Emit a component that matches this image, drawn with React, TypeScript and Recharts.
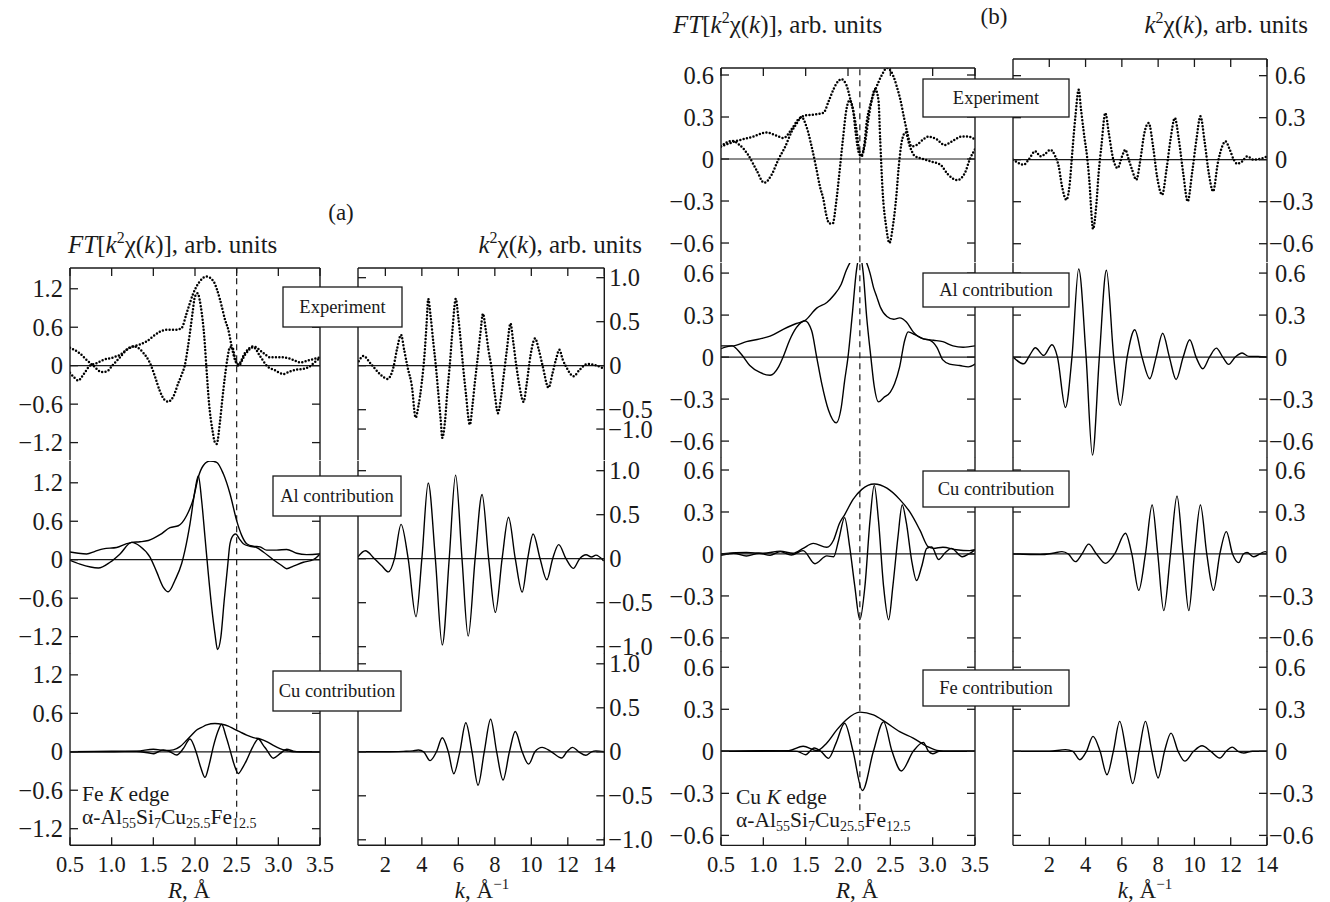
import React from "react";
import { LineChart, Line, XAxis, YAxis, ReferenceLine } from "recharts";

type Pt = [number, number];

// ---------- (a) Fe K edge: FT[k^2 chi(k)] vs R, A ----------
const aExpMag: Pt[] = [[0.5,-0.11],[0.54,-0.17],[0.6,-0.23],[0.66,-0.14],[0.74,0],[0.82,0.04],[0.9,0.09],[1.02,0.13],[1.1,0.17],[1.18,0.25],[1.26,0.3],[1.34,0.33],[1.42,0.38],[1.5,0.46],[1.58,0.53],[1.66,0.56],[1.78,0.56],[1.84,0.59],[1.9,0.82],[1.98,1.13],[2.06,1.32],[2.14,1.39],[2.22,1.32],[2.3,1.03],[2.36,0.72],[2.4,0.56],[2.44,0.3],[2.48,0.09],[2.52,0.02],[2.6,0.2],[2.7,0.3],[2.82,0.2],[2.9,0.13],[3.06,0.13],[3.18,0.09],[3.26,0.05],[3.38,0.09],[3.5,0.13]];
const aExpIm: Pt[] = [[0.5,0.28],[0.62,0.19],[0.7,0.09],[0.78,0],[0.88,-0.1],[0.94,-0.09],[1.02,0.02],[1.1,0.13],[1.18,0.25],[1.26,0.3],[1.3,0.29],[1.38,0.2],[1.46,0.04],[1.52,-0.17],[1.58,-0.4],[1.64,-0.54],[1.68,-0.56],[1.74,-0.48],[1.8,-0.27],[1.84,-0.14],[1.88,0.02],[1.91,0.25],[1.94,0.52],[1.97,0.82],[2.0,1.08],[2.03,1.13],[2.07,0.92],[2.11,0.47],[2.14,-0.09],[2.17,-0.61],[2.21,-1.01],[2.24,-1.2],[2.26,-1.22],[2.3,-0.87],[2.33,-0.5],[2.36,-0.16],[2.39,0.12],[2.42,0.29],[2.45,0.28],[2.48,0.12],[2.52,0],[2.6,0.17],[2.7,0.29],[2.78,0.15],[2.86,0],[2.96,-0.07],[3.06,-0.13],[3.14,-0.09],[3.22,-0.06],[3.3,-0.05],[3.38,-0.01],[3.45,0.07],[3.5,0.12]];
const aAlMag: Pt[] = [[0.5,0.12],[0.6,0.1],[0.7,0.09],[0.8,0.13],[0.9,0.17],[1.06,0.19],[1.18,0.25],[1.24,0.27],[1.34,0.28],[1.44,0.3],[1.58,0.39],[1.7,0.5],[1.8,0.53],[1.9,0.69],[1.98,0.95],[2.04,1.29],[2.1,1.47],[2.18,1.54],[2.26,1.52],[2.34,1.34],[2.42,1.03],[2.5,0.61],[2.56,0.38],[2.62,0.25],[2.7,0.21],[2.78,0.2],[2.86,0.15],[2.98,0.15],[3.1,0.16],[3.22,0.1],[3.34,0.08],[3.48,0.09],[3.5,0.1]];
const aAlIm: Pt[] = [[0.5,-0.01],[0.62,-0.07],[0.84,-0.13],[0.98,-0.04],[1.1,0.09],[1.24,0.27],[1.34,0.21],[1.46,0.04],[1.54,-0.19],[1.62,-0.43],[1.68,-0.5],[1.76,-0.32],[1.84,-0.06],[1.88,0.15],[1.94,0.56],[2.0,1.08],[2.04,1.31],[2.08,0.92],[2.12,0.35],[2.16,-0.22],[2.2,-0.74],[2.24,-1.16],[2.27,-1.4],[2.31,-1.21],[2.35,-0.64],[2.39,-0.12],[2.42,0.25],[2.46,0.38],[2.49,0.4],[2.53,0.33],[2.58,0.25],[2.66,0.21],[2.74,0.19],[2.82,0.12],[2.94,0],[3.04,-0.09],[3.1,-0.14],[3.18,-0.1],[3.3,-0.04],[3.42,0],[3.5,0.09]];
const aCuMag: Pt[] = [[0.5,0],[1.0,0.01],[1.3,0.01],[1.5,0.04],[1.65,0.02],[1.74,0.03],[1.82,0.08],[1.9,0.18],[1.96,0.26],[2.02,0.34],[2.08,0.38],[2.14,0.42],[2.24,0.44],[2.32,0.43],[2.4,0.4],[2.46,0.36],[2.54,0.31],[2.62,0.26],[2.7,0.22],[2.78,0.2],[2.86,0.16],[2.94,0.1],[3.02,0.05],[3.1,0.02],[3.18,0],[3.5,0]];
const aCuIm: Pt[] = [[0.5,0],[1.0,0],[1.3,0.005],[1.45,-0.02],[1.5,-0.03],[1.56,0],[1.62,0.03],[1.7,0],[1.78,-0.05],[1.86,0.05],[1.94,0.2],[2.02,-0.03],[2.07,-0.25],[2.12,-0.4],[2.17,-0.2],[2.22,0.08],[2.27,0.3],[2.32,0.43],[2.37,0.25],[2.42,0.03],[2.47,-0.2],[2.52,-0.34],[2.57,-0.25],[2.62,-0.13],[2.69,0.07],[2.76,0.2],[2.82,0.1],[2.86,0.03],[2.94,-0.1],[3.02,-0.03],[3.1,0.04],[3.18,0.01],[3.26,0],[3.5,0]];

// ---------- (a) k^2 chi(k) vs k, 1/A ----------
const aKExp: Pt[] = [[0.54,0.05],[0.81,0.11],[1.17,0.03],[1.72,-0.1],[2.12,-0.15],[2.45,-0.01],[2.63,0.18],[2.86,0.35],[3.03,0.18],[3.21,-0.01],[3.45,-0.23],[3.66,-0.59],[3.81,-0.46],[3.99,-0.2],[4.14,0.11],[4.26,0.48],[4.35,0.76],[4.48,0.56],[4.63,0.26],[4.77,-0.01],[4.9,-0.31],[5.03,-0.61],[5.12,-0.82],[5.26,-0.65],[5.39,-0.31],[5.54,0.03],[5.68,0.41],[5.86,0.76],[5.99,0.56],[6.14,0.26],[6.26,-0.01],[6.41,-0.31],[6.63,-0.67],[6.77,-0.46],[6.9,-0.2],[7.05,0.07],[7.21,0.37],[7.35,0.59],[7.5,0.41],[7.65,0.18],[7.81,-0.01],[7.99,-0.31],[8.17,-0.54],[8.32,-0.39],[8.48,-0.12],[8.66,0.18],[8.86,0.48],[8.99,0.3],[9.17,0.01],[9.35,-0.23],[9.57,-0.41],[9.75,-0.2],[9.95,0.11],[10.21,0.31],[10.41,0.18],[10.63,-0.01],[10.94,-0.25],[11.17,-0.08],[11.35,0.07],[11.54,0.18],[11.72,0.07],[11.9,-0.01],[12.32,-0.12],[12.63,-0.05],[13.08,0.02],[13.45,0.01],[13.94,-0.03]];
const aKAl: Pt[] = [[0.5,0.02],[0.9,0.09],[1.4,0],[1.8,-0.08],[2.17,-0.15],[2.5,0],[2.86,0.39],[3.25,0],[3.68,-0.66],[4.0,0],[4.35,0.86],[4.74,0],[5.12,-0.98],[5.5,0],[5.85,0.95],[6.2,0],[6.54,-0.88],[6.92,0],[7.3,0.73],[7.66,0],[8.03,-0.61],[8.4,0],[8.75,0.47],[9.12,0],[9.5,-0.38],[9.8,0],[10.1,0.28],[10.48,0],[10.85,-0.24],[11.17,0],[11.5,0.16],[11.9,0],[12.3,-0.11],[12.65,0],[13.0,0.045],[13.3,0.02],[13.54,0.04],[13.94,-0.02]];
const aKCu: Pt[] = [[0.5,0],[2.0,0],[3.0,0.005],[3.5,0.01],[3.81,0.02],[4.1,0],[4.45,-0.1],[4.8,0],[5.12,0.16],[5.45,0],[5.75,-0.25],[6.08,0],[6.41,0.33],[6.75,0],[7.08,-0.38],[7.42,0],[7.77,0.37],[8.1,0],[8.45,-0.32],[8.8,0],[9.12,0.23],[9.5,0],[9.85,-0.14],[10.2,0],[10.59,0.05],[11.1,0],[11.66,-0.07],[11.95,0],[12.26,0.05],[12.6,0],[12.99,-0.04],[13.3,0],[13.54,0.01],[14,0]];

// ---------- (b) Cu K edge: FT vs R ----------
const bExpMag: Pt[] = [[0.5,0.09],[0.69,0.13],[0.88,0.16],[1.04,0.19],[1.14,0.17],[1.24,0.15],[1.33,0.21],[1.41,0.28],[1.49,0.31],[1.63,0.32],[1.71,0.33],[1.77,0.41],[1.83,0.5],[1.89,0.56],[1.92,0.57],[1.98,0.53],[2.03,0.42],[2.07,0.32],[2.1,0.21],[2.13,0.07],[2.15,0.02],[2.19,0.09],[2.22,0.26],[2.27,0.4],[2.34,0.52],[2.4,0.6],[2.46,0.65],[2.53,0.6],[2.58,0.51],[2.62,0.42],[2.66,0.3],[2.7,0.19],[2.75,0.09],[2.81,0.1],[2.89,0.14],[2.95,0.16],[3.05,0.14],[3.14,0.1],[3.24,0.13],[3.34,0.16],[3.42,0.16],[3.5,0.14]];
const bExpIm: Pt[] = [[0.5,0.09],[0.63,0.13],[0.72,0.1],[0.82,0.03],[0.92,-0.08],[1.01,-0.17],[1.1,-0.11],[1.18,0],[1.26,0.09],[1.33,0.19],[1.4,0.26],[1.45,0.3],[1.51,0.23],[1.57,0.09],[1.62,-0.05],[1.67,-0.2],[1.71,-0.29],[1.74,-0.39],[1.78,-0.46],[1.82,-0.46],[1.86,-0.31],[1.9,-0.09],[1.94,0.14],[1.98,0.35],[2.02,0.42],[2.06,0.35],[2.09,0.19],[2.13,0.04],[2.16,0.02],[2.2,0.11],[2.24,0.28],[2.28,0.42],[2.32,0.5],[2.36,0.42],[2.38,0.14],[2.41,-0.24],[2.45,-0.48],[2.49,-0.6],[2.53,-0.48],[2.57,-0.27],[2.6,-0.05],[2.64,0.14],[2.68,0.19],[2.73,0.09],[2.79,0.02],[2.89,0],[2.99,-0.02],[3.09,-0.04],[3.18,-0.11],[3.29,-0.15],[3.38,-0.1],[3.44,0],[3.5,0.07]];
const bAlMag: Pt[] = [[0.5,0.08],[0.63,0.08],[0.8,0.11],[0.96,0.13],[1.08,0.15],[1.24,0.2],[1.39,0.24],[1.49,0.26],[1.63,0.35],[1.75,0.39],[1.83,0.44],[1.92,0.52],[1.98,0.62],[2.05,0.7],[2.13,0.74],[2.2,0.7],[2.26,0.6],[2.3,0.5],[2.34,0.43],[2.38,0.36],[2.46,0.29],[2.54,0.27],[2.61,0.28],[2.69,0.25],[2.77,0.18],[2.89,0.13],[3.01,0.12],[3.12,0.11],[3.24,0.08],[3.36,0.07],[3.5,0.08]];
const bAlIm: Pt[] = [[0.5,0.06],[0.63,0.08],[0.74,0.02],[0.84,-0.06],[0.96,-0.11],[1.08,-0.13],[1.18,-0.07],[1.24,0.01],[1.31,0.12],[1.39,0.21],[1.49,0.26],[1.57,0.19],[1.63,0],[1.69,-0.19],[1.77,-0.38],[1.86,-0.47],[1.92,-0.36],[1.96,-0.17],[2.0,0],[2.05,0.3],[2.1,0.62],[2.14,0.73],[2.18,0.6],[2.22,0.29],[2.27,0],[2.31,-0.21],[2.36,-0.32],[2.42,-0.29],[2.5,-0.25],[2.55,-0.19],[2.61,-0.07],[2.67,0.12],[2.71,0.18],[2.79,0.16],[2.89,0.13],[2.97,0.12],[3.05,0.07],[3.12,-0.02],[3.2,-0.05],[3.32,-0.06],[3.42,-0.07],[3.5,-0.05]];
const bCuMag: Pt[] = [[0.5,0],[0.8,0.01],[1.0,0.005],[1.2,0.02],[1.35,0.005],[1.47,0.04],[1.59,0.076],[1.75,0.048],[1.83,0.1],[1.9,0.22],[1.96,0.28],[2.06,0.39],[2.16,0.46],[2.31,0.5],[2.46,0.47],[2.61,0.39],[2.73,0.3],[2.85,0.17],[2.95,0.05],[3.01,0.04],[3.12,0.048],[3.28,0.03],[3.44,0.024],[3.5,0.03]];
const bCuIm: Pt[] = [[0.5,-0.01],[0.65,0.005],[0.8,-0.015],[0.95,0.005],[1.08,-0.01],[1.2,0.017],[1.33,-0.007],[1.47,0.024],[1.61,-0.07],[1.75,-0.014],[1.83,-0.02],[1.89,0.1],[1.96,0.26],[2.02,0.05],[2.08,-0.23],[2.14,-0.47],[2.2,-0.23],[2.26,0.24],[2.31,0.49],[2.36,0.24],[2.42,-0.23],[2.48,-0.47],[2.53,-0.23],[2.59,0.12],[2.64,0.35],[2.69,0.22],[2.75,-0.04],[2.81,-0.19],[2.87,-0.09],[2.93,0.04],[2.99,0.05],[3.07,-0.04],[3.15,0.01],[3.22,0.04],[3.35,-0.02],[3.44,0.005],[3.5,0.03]];
const bFeMag: Pt[] = [[0.5,0],[1.3,0.005],[1.47,0.036],[1.63,0.005],[1.75,0.06],[1.87,0.155],[1.98,0.226],[2.14,0.28],[2.3,0.26],[2.44,0.21],[2.61,0.14],[2.77,0.095],[2.93,0.036],[3.05,0.007],[3.2,0],[3.5,0]];
const bFeIm: Pt[] = [[0.5,0],[1.1,0.005],[1.4,0],[1.5,-0.024],[1.6,0.024],[1.68,0],[1.77,-0.05],[1.86,0.06],[1.96,0.2],[2.06,0],[2.17,-0.28],[2.3,0],[2.42,0.21],[2.52,0],[2.63,-0.14],[2.77,0],[2.89,0.064],[2.95,0],[3.0,-0.017],[3.08,0],[3.5,0]];

// ---------- (b) k^2 chi(k) ----------
const bKExp: Pt[] = [[0,0],[0.31,-0.024],[0.59,-0.036],[0.86,0],[1.23,0.06],[1.51,0.024],[1.78,0.043],[2.06,0.071],[2.33,0.024],[2.52,-0.048],[2.7,-0.19],[2.94,-0.286],[3.13,-0.167],[3.25,0.024],[3.44,0.31],[3.62,0.5],[3.75,0.357],[3.93,0.167],[4.08,0.024],[4.23,-0.19],[4.32,-0.38],[4.41,-0.495],[4.6,-0.31],[4.72,-0.095],[4.87,0.095],[5.09,0.333],[5.28,0.19],[5.51,0.012],[5.77,-0.06],[6.01,0.024],[6.19,0.071],[6.38,0],[6.56,-0.071],[6.8,-0.143],[7.02,0],[7.24,0.19],[7.48,0.262],[7.72,0.095],[7.94,-0.12],[8.22,-0.25],[8.46,-0.071],[8.68,0.143],[8.92,0.298],[9.14,0.143],[9.38,-0.095],[9.63,-0.298],[9.87,-0.095],[10.11,0.143],[10.33,0.31],[10.57,0.12],[10.79,-0.095],[11.03,-0.226],[11.29,-0.024],[11.53,0.095],[11.71,0.131],[11.95,0.071],[12.17,0],[12.35,-0.029],[12.63,-0.012],[12.9,0.024],[13.27,0],[13.6,0.005],[14.0,0.024]];
const bKAl: Pt[] = [[0,0],[0.59,-0.048],[0.95,0.02],[1.23,0.067],[1.69,0.012],[2.15,0.088],[2.45,0],[2.89,-0.36],[3.25,0],[3.62,0.63],[4.03,0],[4.38,-0.7],[4.76,0],[5.15,0.62],[5.55,0],[5.92,-0.345],[6.29,0],[6.71,0.195],[7.11,0],[7.54,-0.155],[7.89,0],[8.25,0.17],[8.62,0],[8.99,-0.16],[9.38,0],[9.74,0.124],[10.09,0],[10.46,-0.083],[10.83,0],[11.21,0.064],[11.56,0],[11.89,-0.052],[12.25,0],[12.63,0.029],[13.0,0.005],[13.5,0.005],[14,0]];
const bKCu: Pt[] = [[0,0],[1.5,-0.005],[2.2,0.005],[2.7,0.017],[3.05,0],[3.44,-0.055],[3.8,0],[4.17,0.07],[4.6,0],[5.09,-0.067],[5.6,0],[6.2,0.148],[6.55,0],[6.93,-0.26],[7.3,0],[7.67,0.35],[7.98,0],[8.31,-0.405],[8.68,0],[9.04,0.414],[9.37,0],[9.69,-0.405],[10.0,0],[10.33,0.35],[10.68,0],[11.05,-0.26],[11.4,0],[11.76,0.16],[12.1,0],[12.44,-0.062],[12.7,0],[12.9,0.01],[13.27,-0.02],[13.9,0.017],[14,0.012]];
const bKFe: Pt[] = [[0,0],[2.0,0],[2.89,0.012],[3.3,0],[3.68,-0.06],[4.05,0],[4.41,0.107],[4.8,0],[5.18,-0.167],[5.53,0],[5.88,0.214],[6.24,0],[6.6,-0.23],[6.95,0],[7.3,0.214],[7.65,0],[8.0,-0.19],[8.35,0],[8.71,0.13],[9.1,0],[9.47,-0.07],[9.95,0],[10.42,0.04],[10.9,0],[11.4,-0.048],[11.75,0],[12.08,0.03],[12.4,0],[12.72,-0.012],[13.2,0],[14,0]];

// ---------- ticks ----------
const rTicks = [0.5, 1, 1.5, 2, 2.5, 3, 3.5];
const kTicks = [2, 4, 6, 8, 10, 12, 14];
const aFtTicks = [-1.2, -0.6, 0, 0.6, 1.2];
const aKTicks = [-1, -0.5, 0, 0.5, 1];
const aKTicksTop = [-0.72, -0.5, 0, 0.5, 1];
const aKTicksTopText = ["−1.0", "−0.5", "0", "0.5", "1.0"];
const bTicks = [-0.6, -0.3, 0, 0.3, 0.6];

const FONT = "'Liberation Serif', 'Times New Roman', serif";
const INK = "#1a1a1a";

const fmt = (v: number) => (v === 0 ? "0" : (v < 0 ? "−" : "") + Math.abs(v).toFixed(1));
const labelMap = (ticks: number[], texts?: string[]) =>
  new Map(ticks.map((t, i) => [t, texts ? texts[i] : fmt(t)]));

function merge(series: Record<string, Pt[]>) {
  const rows = new Map<number, any>();
  Object.entries(series).forEach(([key, pts]) => {
    pts.forEach(([x, y]) => {
      const row = rows.get(x) ?? { x };
      row[key] = y;
      rows.set(x, row);
    });
  });
  return [...rows.values()].sort((a, b) => a.x - b.x);
}

type Edge = "top" | "bottom" | "none";
type StripProps = {
  x0: number; y0: number; w: number; h: number;
  xDomain: [number, number]; xTicks: number[]; xEdge: Edge;
  yDomain: [number, number]; yTicks: number[]; yText: Map<number, string>;
  labelSide: "left" | "right"; posShift?: number; negShift?: number;
  series: Record<string, Pt[]>; dotted?: boolean;
  dashX?: number; dashLow?: number;
};

const M = 70;
const MV = 40;

function Strip(p: StripProps) {
  const data = merge(p.series);
  const yTick = (side: "left" | "right", withText: boolean) => (t: any) => {
    const dir = side === "left" ? 1 : -1;
    const v = t.payload.value;
    const tx = side === "left" ? t.x - 7 : t.x + (v < 0 ? p.negShift ?? 5 : p.posShift ?? 5);
    return (
      <g>
        <line x1={t.x} y1={t.y} x2={t.x + dir * 8} y2={t.y} stroke={INK} strokeWidth={1.3} />
        {withText && (
          <text x={tx} y={t.y} dy="0.35em" textAnchor={side === "left" ? "end" : "start"}
            fontFamily={FONT} fontSize={24.5} fill={INK}>{p.yText.get(v)}</text>
        )}
      </g>
    );
  };
  const xTick = (t: any) => {
    const top = p.xEdge === "top";
    const v = t.payload.value;
    return (
      <g>
        <line x1={t.x} x2={t.x} y1={t.y} y2={t.y + (top ? 8 : -8)} stroke={INK} strokeWidth={1.3} />
        {!top && (
          <text x={t.x} y={t.y + 27} textAnchor="middle" fontFamily={FONT} fontSize={22.5} fill={INK}>
            {p.xDomain[1] > 5 ? String(v) : v.toFixed(1)}
          </text>
        )}
      </g>
    );
  };
  const axisLine = { stroke: INK, strokeWidth: 1.4 };
  // axes are 1px wide/high (a zero size hides them), so margins shrink by 1
  const margin = {
    top: p.xEdge === "top" ? MV - 1 : MV,
    bottom: p.xEdge === "bottom" ? MV - 1 : MV,
    left: M - 1,
    right: M - 1,
  };
  return (
    <div style={{ position: "absolute", left: p.x0 - M, top: p.y0 - MV }}>
      <LineChart width={p.w + 2 * M} height={p.h + 2 * MV} data={data} margin={margin}>
        <XAxis dataKey="x" type="number" domain={p.xDomain} ticks={p.xTicks} allowDataOverflow
          orientation={p.xEdge === "top" ? "top" : "bottom"} hide={p.xEdge === "none"} height={1}
          interval={0} axisLine={axisLine} tickLine={false} tickSize={0} tickMargin={0} tick={xTick} />
        <YAxis yAxisId="l" orientation="left" width={1} type="number" domain={p.yDomain} ticks={p.yTicks}
          allowDataOverflow interval={0} axisLine={axisLine} tickLine={false} tickSize={0} tickMargin={0}
          tick={yTick("left", p.labelSide === "left")} />
        <YAxis yAxisId="r" orientation="right" width={1} type="number" domain={p.yDomain} ticks={p.yTicks}
          allowDataOverflow interval={0} axisLine={axisLine} tickLine={false} tickSize={0} tickMargin={0}
          tick={yTick("right", p.labelSide === "right")} />
        <ReferenceLine yAxisId="l" y={0} stroke={INK} strokeWidth={1.2} />
        {p.dashX !== undefined && (
          <ReferenceLine yAxisId="l" stroke={INK} strokeWidth={1.2} strokeDasharray="6 5"
            segment={[{ x: p.dashX, y: p.dashLow ?? p.yDomain[0] }, { x: p.dashX, y: p.yDomain[1] }]} />
        )}
        {Object.keys(p.series).map((key) => (
          <Line key={key} yAxisId="l" dataKey={key} type="monotone" connectNulls dot={false} activeDot={false}
            isAnimationActive={false} stroke="#000" strokeWidth={p.dotted ? 2.5 : 1.4}
            strokeDasharray={p.dotted ? "0 3.4" : undefined} strokeLinecap="round" />
        ))}
      </LineChart>
    </div>
  );
}

function FtTitle({ x, y }: { x: number; y: number }) {
  return (
    <text x={x} y={y} fontSize={25}>
      <tspan fontStyle="italic">FT</tspan>[<tspan fontStyle="italic">k</tspan>
      <tspan fontSize={16} dy={-10}>2</tspan><tspan dy={10}>χ(</tspan><tspan fontStyle="italic">k</tspan>)], arb. units
    </text>
  );
}

function KTitle({ x, y }: { x: number; y: number }) {
  return (
    <text x={x} y={y} fontSize={25} textAnchor="end">
      <tspan fontStyle="italic">k</tspan><tspan fontSize={16} dy={-10}>2</tspan>
      <tspan dy={10}>χ(</tspan><tspan fontStyle="italic">k</tspan>), arb. units
    </text>
  );
}

function Alloy({ x, y }: { x: number; y: number }) {
  return (
    <text x={x} y={y} fontSize={21.5}>
      α-Al<tspan fontSize={14} dy={4}>55</tspan><tspan dy={-4}>Si</tspan>
      <tspan fontSize={14} dy={4}>7</tspan><tspan dy={-4}>Cu</tspan>
      <tspan fontSize={14} dy={4}>25.5</tspan><tspan dy={-4}>Fe</tspan>
      <tspan fontSize={14} dy={4}>12.5</tspan>
    </text>
  );
}

function Overlay() {
  const boxes = [
    { x: 283, y: 287, w: 119, h: 40, t: "Experiment" },
    { x: 273, y: 476, w: 128, h: 40, t: "Al contribution" },
    { x: 273, y: 671, w: 128, h: 40, t: "Cu contribution" },
    { x: 923, y: 79, w: 146, h: 38, t: "Experiment" },
    { x: 923, y: 273, w: 146, h: 34, t: "Al contribution" },
    { x: 923, y: 471, w: 146, h: 36, t: "Cu contribution" },
    { x: 923, y: 670, w: 146, h: 36, t: "Fe contribution" },
  ];
  return (
    <svg width={1330} height={902} style={{ position: "absolute", left: 0, top: 0, pointerEvents: "none" }}
      fontFamily={FONT} fill={INK}>
      <text x={341} y={220} fontSize={23} textAnchor="middle">(a)</text>
      <text x={994} y={24} fontSize={23} textAnchor="middle">(b)</text>
      <FtTitle x={68} y={253} />
      <KTitle x={642} y={253} />
      <FtTitle x={673} y={33} />
      <KTitle x={1308} y={33} />
      {boxes.map((b, i) => (
        <g key={i}>
          <rect x={b.x} y={b.y} width={b.w} height={b.h} fill="#fff" stroke={INK} strokeWidth={1.3} />
          <text x={b.x + b.w / 2} y={b.y + b.h / 2} dy="0.35em" textAnchor="middle" fontSize={18.5}>{b.t}</text>
        </g>
      ))}
      <text x={82} y={801} fontSize={21.5}>Fe <tspan fontStyle="italic">K</tspan> edge</text>
      <Alloy x={82} y={824} />
      <text x={736} y={804} fontSize={21.5}>Cu <tspan fontStyle="italic">K</tspan> edge</text>
      <Alloy x={736} y={827} />
      <text x={189} y={898} fontSize={23} textAnchor="middle"><tspan fontStyle="italic">R</tspan>, Å</text>
      <text x={857} y={898} fontSize={23} textAnchor="middle"><tspan fontStyle="italic">R</tspan>, Å</text>
      <text x={482} y={898} fontSize={23} textAnchor="middle">
        <tspan fontStyle="italic">k</tspan>, Å<tspan fontSize={15} dy={-9}>−1</tspan>
      </text>
      <text x={1145} y={898} fontSize={23} textAnchor="middle">
        <tspan fontStyle="italic">k</tspan>, Å<tspan fontSize={15} dy={-9}>−1</tspan>
      </text>
    </svg>
  );
}

export default function App() {
  const aTops = [268.3, 460.6, 652.9];
  const aH = 192.3;
  const aRDom: [number, number][] = [[-1.476, 1.524], [-1.46, 1.54], [-1.459, 1.541]];
  const aKDom: [number, number][] = [[-1.075, 1.11], [-1.075, 1.11], [-1.0625, 1.1227]];
  const aR = [{ mag: aExpMag, im: aExpIm }, { mag: aAlMag, im: aAlIm }, { mag: aCuMag, im: aCuIm }];
  const aK = [aKExp, aKAl, aKCu];

  const bTops = [68.3, 262.65, 457, 651.35];
  const bH = 194.35;
  const bDom: [number, number][] = [[-0.738, 0.65], [-0.716, 0.672], [-0.696, 0.693], [-0.671, 0.716]];
  const bR = [{ mag: bExpMag, im: bExpIm }, { mag: bAlMag, im: bAlIm }, { mag: bCuMag, im: bCuIm }, { mag: bFeMag, im: bFeIm }];
  const bK = [bKExp, bKAl, bKCu, bKFe];
  const edge = (i: number, n: number): Edge => (i === 0 ? "top" : i === n - 1 ? "bottom" : "none");

  return (
    <div style={{ position: "absolute", left: 0, top: 0, width: 1330, height: 902, background: "#fff", overflow: "hidden" }}>
      {aR.map((s, i) => (
        <Strip key={"aR" + i} x0={70} y0={aTops[i]} w={250} h={aH} xDomain={[0.5, 3.5]} xTicks={rTicks}
          xEdge={edge(i, 3)} yDomain={aRDom[i]} yTicks={aFtTicks} yText={labelMap(aFtTicks)} labelSide="left"
          series={s} dotted={i === 0} dashX={2.5} dashLow={i === 2 ? -1.03 : undefined} />
      ))}
      {aK.map((s, i) => (
        <Strip key={"aK" + i} x0={357.7} y0={aTops[i]} w={246.3} h={aH} xDomain={[0.5, 14]} xTicks={kTicks}
          xEdge={edge(i, 3)} yDomain={aKDom[i]} yTicks={i === 0 ? aKTicksTop : aKTicks}
          yText={i === 0 ? labelMap(aKTicksTop, aKTicksTopText) : labelMap(aKTicks)} labelSide="right"
          posShift={5} negShift={4} series={{ chi: s }} dotted={i === 0} />
      ))}
      {bR.map((s, i) => (
        <Strip key={"bR" + i} x0={721} y0={bTops[i]} w={254} h={bH} xDomain={[0.5, 3.5]} xTicks={rTicks}
          xEdge={edge(i, 4)} yDomain={bDom[i]} yTicks={bTicks} yText={labelMap(bTicks)} labelSide="left"
          series={s} dotted={i === 0} dashX={2.14} dashLow={i === 3 ? -0.42 : undefined} />
      ))}
      {bK.map((s, i) => (
        <Strip key={"bK" + i} x0={1012.7} y0={i === 0 ? 59.3 : bTops[i]} w={254} h={i === 0 ? 203.35 : bH}
          xDomain={[0, 14]} xTicks={kTicks} xEdge={edge(i, 4)}
          yDomain={i === 0 ? [-0.733, 0.719] : bDom[i]} yTicks={bTicks} yText={labelMap(bTicks)}
          labelSide="right" posShift={8} negShift={2} series={{ chi: s }} dotted={i === 0} />
      ))}
      <Overlay />
    </div>
  );
}
